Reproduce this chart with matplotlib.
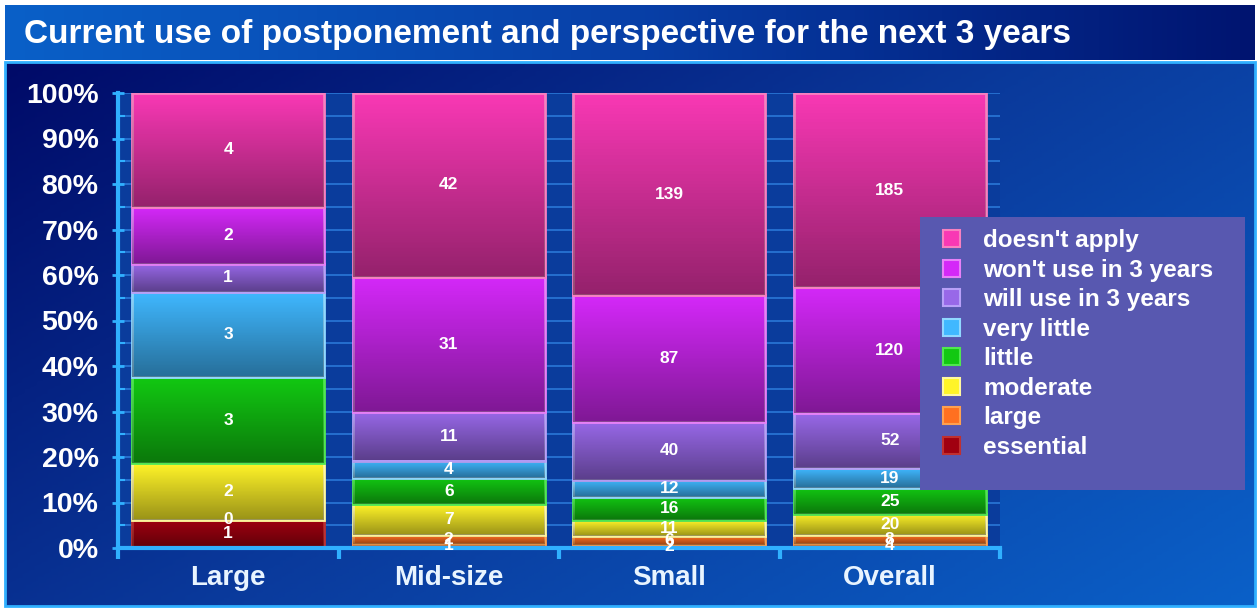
import matplotlib.pyplot as plt
import numpy as np
from matplotlib.patches import Rectangle
from matplotlib.colors import LinearSegmentedColormap

plt.rcParams['font.family'] = ['Liberation Sans', 'DejaVu Sans']

# Data (counts per category)
categories = ['Large', 'Mid-size', 'Small', 'Overall']
series = ['essential', 'large', 'moderate', 'little', 'very little',
          'will use in 3 years', "won't use in 3 years", "doesn't apply"]
essential = [1, 1, 2, 4]
large = [0, 2, 6, 8]
moderate = [2, 7, 11, 20]
little = [3, 6, 16, 25]
very_little = [3, 4, 12, 19]
will_use = [1, 11, 40, 52]
wont_use = [2, 31, 87, 120]
doesnt_apply = [4, 42, 139, 185]
yticks = [0, 10, 20, 30, 40, 50, 60, 70, 80, 90, 100]

values = [essential, large, moderate, little, very_little, will_use, wont_use, doesnt_apply]
colors = ['#a00010', '#ff7020', '#fff428', '#12c812', '#40b8ff', '#9868e8', '#d428f8', '#f838b4']
edges = ['#c03030', '#ffa050', '#fff8a0', '#50e850', '#90d8ff', '#b8a0f8', '#e880f8', '#f880c0']

W, H = 1260, 608
fig = plt.figure(figsize=(12.6, 6.08), dpi=100)
fig.patch.set_facecolor('white')

# background: title bar + panel gradients
bg = fig.add_axes([0, 0, 1, 1])
bg.set_xlim(0, W)
bg.set_ylim(H, 0)
bg.axis('off')
grad = np.linspace(0, 1, 256).reshape(1, -1)
bg.imshow(grad, extent=[5, 1255, 60, 5], aspect='auto',
          cmap=LinearSegmentedColormap.from_list('t', ['#0a60c8', '#0840a8', '#001470']))
gx, gy = np.meshgrid(np.linspace(0, 1, 200), np.linspace(0, 1, 200))
bg.imshow(0.6 * gx + 0.4 * gy, extent=[5, 1255, 606, 63], origin='upper', aspect='auto',
          cmap=LinearSegmentedColormap.from_list('p', ['#000a68', '#0a3a9c', '#0a60c8']))
bg.add_patch(Rectangle((5, 62), 1250, 544, fill=False, ec='#30b0ff', lw=2))
bg.text(24, 34, 'Current use of postponement and perspective for the next 3 years',
        color='white', fontsize=24, fontweight='bold', va='center', ha='left')

ax = fig.add_axes([118 / W, 60 / H, 882 / W, 455 / H])
ax.set_facecolor('#0a3c9c')
for y in range(0, 101, 5):
    ax.axhline(y, color='#2a78d8', lw=1.2, zorder=0)

shade = LinearSegmentedColormap.from_list('s', [(0, 0, 0, 0.0), (0, 0, 0, 0.4)])
vgrad = np.linspace(0, 1, 64).reshape(-1, 1)

totals = np.sum(values, axis=0)
x = np.arange(len(categories))
bottom = np.zeros(len(categories))
for k, (vals, c, e) in enumerate(zip(values, colors, edges)):
    pct = np.array(vals) / totals * 100
    bars = ax.bar(x, pct, bottom=bottom, width=0.87, color=c, edgecolor=e, linewidth=2, zorder=2)
    for bar in bars:
        bx, by = bar.get_x(), bar.get_y()
        im = ax.imshow(vgrad, extent=[bx, bx + bar.get_width(), by, by + bar.get_height()],
                       cmap=shade, aspect='auto', zorder=2.1, origin='upper')
        im.set_clip_path(bar)
    for xi, p, b, v in zip(x, pct, bottom, vals):
        ax.text(xi, b + p / 2, str(v), color='white', fontsize=12.5, fontweight='bold',
                ha='center', va='center', zorder=10 - k)
    bottom += pct

ax.set_xlim(-0.5, 3.5)
ax.set_ylim(0, 100)
ax.set_yticks(yticks)
ax.set_yticklabels([f'{t}%' for t in yticks], color='white', fontsize=20.5, fontweight='bold')
ax.set_yticks(range(5, 100, 10), minor=True)
ax.set_xticks([-0.5, 0.5, 1.5, 2.5, 3.5])
ax.set_xticklabels([])
ax.set_xticks(x, minor=True)
ax.set_xticklabels(categories, minor=True, color='#e8f4ff', fontsize=20, fontweight='bold')
ax.tick_params(axis='x', which='minor', length=0, pad=12)
ax.tick_params(axis='x', which='major', length=8, width=3, color='#30b0ff', direction='out')
ax.tick_params(axis='y', which='major', length=8, width=2, color='#30b0ff', direction='inout', pad=10)
ax.tick_params(axis='y', which='minor', length=5, width=1.5, color='#30b0ff', direction='in')
for s in ['top', 'right']:
    ax.spines[s].set_visible(False)
for s in ['left', 'bottom']:
    ax.spines[s].set_color('#30b0ff')
    ax.spines[s].set_linewidth(3)

# legend panel on top of the plot area
fig.add_artist(Rectangle((920 / W, 1 - 490 / H), 325 / W, 273 / H, transform=fig.transFigure,
                         fc='#5858b0', ec='none', zorder=5))
handles = [Rectangle((0, 0), 1, 1, fc=c, ec=e, lw=1.5) for c, e in zip(colors, edges)]
leg = fig.legend(handles[::-1], series[::-1], loc='upper left',
                 bbox_to_anchor=(943 / W, 1 - 229 / H), frameon=False,
                 prop={'size': 17.5, 'weight': 'bold'}, labelcolor='white',
                 handlelength=0.7, handleheight=0.7, handletextpad=0.95,
                 labelspacing=0.27, borderpad=0, borderaxespad=0)
leg.set_zorder(6)

plt.savefig('out.png', dpi=100)
